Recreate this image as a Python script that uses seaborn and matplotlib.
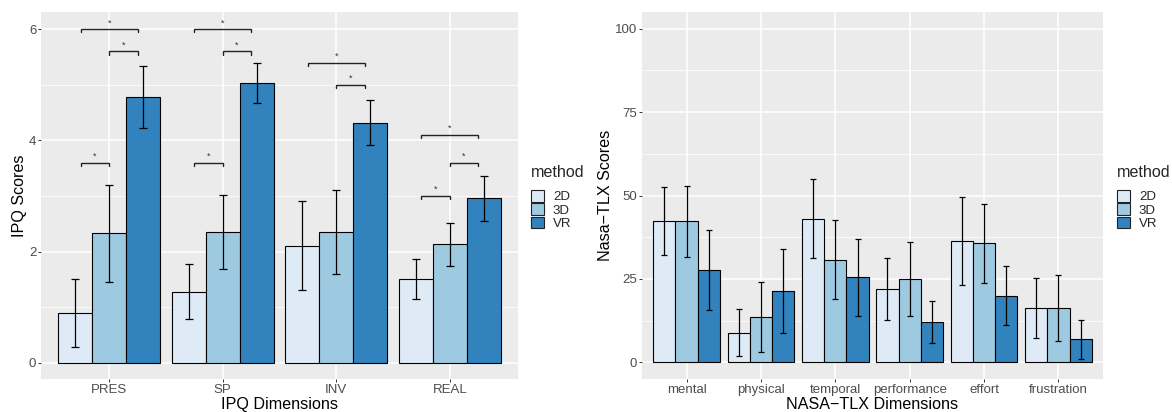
import numpy as np
import pandas as pd
import matplotlib
matplotlib.use("Agg")
import matplotlib.pyplot as plt
import seaborn as sns
from matplotlib.ticker import MultipleLocator

# ---------------- data ----------------
methods = ["2D", "3D", "VR"]
palette = ["#DEEBF7", "#9ECAE1", "#3182BD"]

ipq_dims = ["PRES", "SP", "INV", "REAL"]
ipq_2d = [0.89, 1.28, 2.11, 1.50]
ipq_3d = [2.33, 2.35, 2.35, 2.13]
ipq_vr = [4.78, 5.03, 4.32, 2.96]
ipq_err_2d = [0.61, 0.49, 0.80, 0.36]
ipq_err_3d = [0.87, 0.66, 0.76, 0.39]
ipq_err_vr = [0.55, 0.36, 0.41, 0.40]

# significance brackets (dimension, from method, to method, height)
ipq_sig_dim = ["PRES", "PRES", "PRES", "SP", "SP", "SP", "INV", "INV", "REAL", "REAL", "REAL"]
ipq_sig_from = ["2D", "3D", "2D", "2D", "3D", "2D", "2D", "3D", "2D", "3D", "2D"]
ipq_sig_to = ["VR", "VR", "3D", "VR", "VR", "3D", "VR", "VR", "VR", "VR", "3D"]
ipq_sig_y = [6.0, 5.6, 3.6, 6.0, 5.6, 3.6, 5.4, 5.0, 4.1, 3.6, 3.0]

tlx_dims = ["mental", "physical", "temporal", "performance", "effort", "frustration"]
tlx_2d = [42.3, 8.9, 43.1, 22.0, 36.4, 16.3]
tlx_3d = [42.3, 13.6, 30.8, 25.0, 35.7, 16.3]
tlx_vr = [27.7, 21.4, 25.5, 12.2, 20.0, 6.9]
tlx_err_2d = [10.1, 7.0, 11.9, 9.3, 13.1, 9.1]
tlx_err_3d = [10.6, 10.4, 11.8, 11.0, 11.8, 9.8]
tlx_err_vr = [12.0, 12.5, 11.5, 6.3, 8.8, 5.8]

# ---------------- style ----------------
sns.set_theme(style="white")
plt.rcParams["font.family"] = ["Liberation Sans", "DejaVu Sans"]

BG = "#EBEBEB"
TICKC = "#4D4D4D"
TICK_FS = 9.5
TITLE_FS = 11.6


def make_df(dims, m2, m3, mv, e2, e3, ev):
    rows = []
    for i, d in enumerate(dims):
        for m, vals, errs in zip(methods, (m2, m3, mv), (e2, e3, ev)):
            rows.append({"dim": d, "method": m, "score": vals[i], "err": errs[i]})
    return pd.DataFrame(rows)


def draw_panel(ax, df, dims, ylim, ymajor, yminor, xlabel, ylabel, capsize):
    ax.set_facecolor(BG)
    sns.barplot(data=df, x="dim", y="score", hue="method", order=dims,
                hue_order=methods, palette=palette, saturation=1,
                errorbar=None, width=0.9, gap=0, edgecolor="black",
                linewidth=0.8, ax=ax, zorder=3)
    for j, m in enumerate(methods):
        sub = df[df["method"] == m].set_index("dim").loc[dims]
        xs = np.arange(len(dims)) + (j - 1) * 0.3
        ax.errorbar(xs, sub["score"].values, yerr=sub["err"].values,
                    fmt="none", ecolor="black", elinewidth=0.9,
                    capsize=capsize, capthick=0.9, zorder=4)
    ax.set_xlim(-0.6, len(dims) - 0.4)
    ax.set_ylim(*ylim)
    ax.yaxis.set_major_locator(MultipleLocator(ymajor))
    ax.yaxis.set_minor_locator(MultipleLocator(yminor))
    ax.grid(True, which="major", color="white", linewidth=1.1, zorder=0)
    ax.grid(True, which="minor", axis="y", color="white", linewidth=0.55, zorder=0)
    ax.set_axisbelow(True)
    for s in ax.spines.values():
        s.set_visible(False)
    ax.tick_params(axis="both", which="major", length=2.2, width=0.7,
                   color="#333333", labelcolor=TICKC, labelsize=TICK_FS, pad=1.2,
                   left=True, bottom=True)
    ax.tick_params(axis="both", which="minor", length=0)
    ax.set_xlabel(xlabel, fontsize=TITLE_FS, color="black", labelpad=1)
    ax.set_ylabel(ylabel, fontsize=TITLE_FS, color="black", labelpad=1.5)
    if ax.get_legend() is not None:
        ax.get_legend().remove()


def add_legend(fig, ax, x_px, y_px):
    handles, labels = ax.get_legend_handles_labels()
    leg = fig.legend(handles[:3], labels[:3], title="method",
                     loc="upper left",
                     bbox_to_anchor=(x_px / 1172, 1 - y_px / 412),
                     frameon=False, fontsize=TICK_FS, title_fontsize=TITLE_FS,
                     handlelength=0.98, handleheight=1.0, labelspacing=0.0,
                     handletextpad=0.68, borderpad=0, borderaxespad=0,
                     alignment="left")
    leg._legend_box.sep = 7
    for h in leg.legend_handles:
        h.set_edgecolor("#222222")
        h.set_linewidth(0.8)


fig = plt.figure(figsize=(11.72, 4.12), dpi=100)
ax1 = fig.add_axes([41 / 1172, 1 - 379 / 412, (518 - 41) / 1172, (379 - 12) / 412])
ax2 = fig.add_axes([642 / 1172, 1 - 379 / 412, (1103 - 642) / 1172, (379 - 12) / 412])

df_ipq = make_df(ipq_dims, ipq_2d, ipq_3d, ipq_vr, ipq_err_2d, ipq_err_3d, ipq_err_vr)
df_tlx = make_df(tlx_dims, tlx_2d, tlx_3d, tlx_vr, tlx_err_2d, tlx_err_3d, tlx_err_vr)

draw_panel(ax1, df_ipq, ipq_dims, (-0.29, 6.31), 2, 1,
           "IPQ Dimensions", "IPQ Scores", 3)
draw_panel(ax2, df_tlx, tlx_dims, (-5, 105), 25, 12.5,
           "NASA\u2212TLX Dimensions", "Nasa\u2212TLX Scores", 2)

# significance brackets on IPQ panel
br_off = {"2D": -0.25, "3D": 0.0, "VR": 0.25}
for d, a, b, y in zip(ipq_sig_dim, ipq_sig_from, ipq_sig_to, ipq_sig_y):
    xc = ipq_dims.index(d)
    x1, x2 = xc + br_off[a], xc + br_off[b]
    tip = 0.055
    ax1.plot([x1, x1, x2, x2], [y - tip, y, y, y - tip], color="#222222",
             lw=1.0, solid_joinstyle="miter", zorder=5)
    ax1.text((x1 + x2) / 2, y + 0.07, "*", ha="center", va="baseline",
             fontsize=6.5, color="#333333", zorder=5)

add_legend(fig, ax1, 531, 165)
add_legend(fig, ax2, 1117, 165)

fig.savefig("out.png", dpi=100, facecolor="white")
